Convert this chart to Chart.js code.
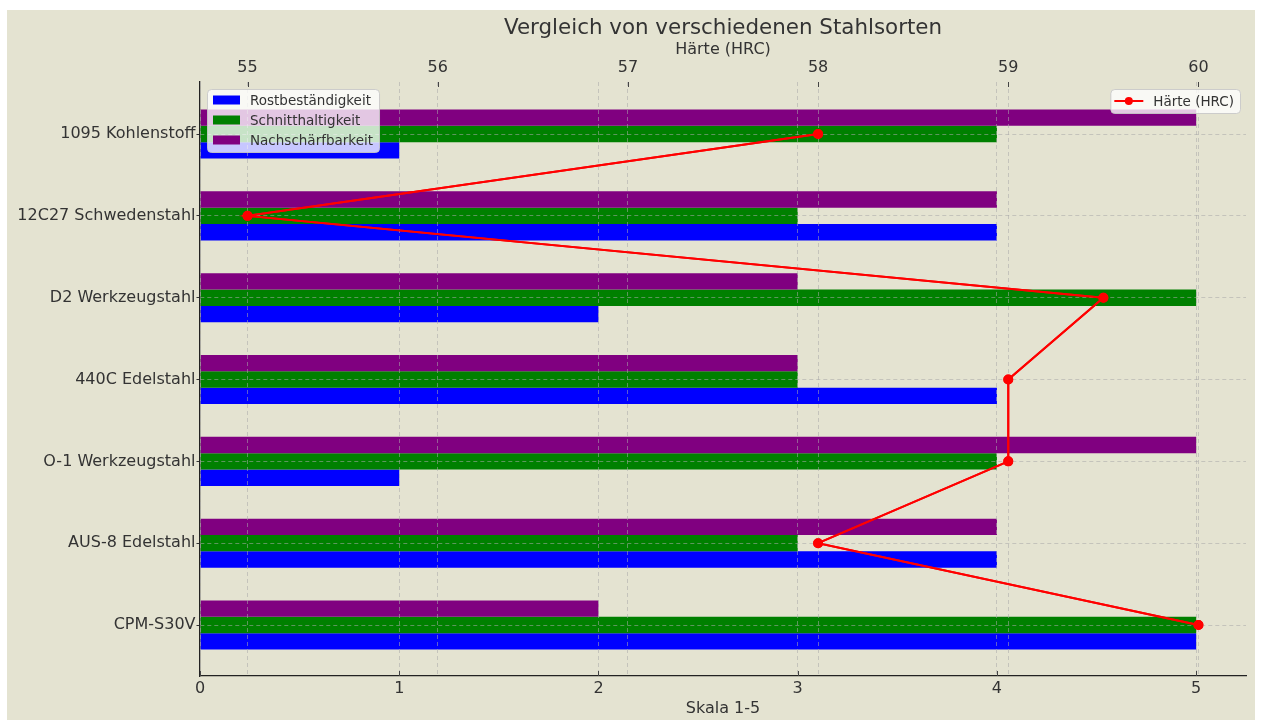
<!DOCTYPE html>
<html lang="de">
<head>
<meta charset="UTF-8">
<title>Vergleich von verschiedenen Stahlsorten</title>
<script src="https://cdn.jsdelivr.net/npm/chart.js"></script>
<style>
  html, body { margin: 0; background: #fff; }
  #wrap { position: absolute; left: 7px; top: 10px; width: 1248px; height: 710px; }
</style>
</head>
<body>
<div id="wrap"><canvas id="steelChart"></canvas></div>
<script>
// Stahlsorten von oben nach unten
const steels = ['1095 Kohlenstoff', '12C27 Schwedenstahl', 'D2 Werkzeugstahl', '440C Edelstahl',
                'O-1 Werkzeugstahl', 'AUS-8 Edelstahl', 'CPM-S30V'];
const rost = [1, 4, 2, 4, 1, 4, 5];
const schnitt = [4, 3, 5, 3, 4, 3, 5];
const nachschaerf = [5, 4, 3, 3, 5, 4, 2];
const haerte = [58, 55, 59.5, 59, 59, 58, 60];
const scaleTicks = [0, 1, 2, 3, 4, 5];
const hrcTicks = [55, 56, 57, 58, 59, 60];

const BG = '#e4e3d1';
const TEXT = '#333';
const GRID = 'rgba(170,170,170,0.55)';
const FONT = "'DejaVu Sans', sans-serif";
Chart.defaults.font.family = FONT;
Chart.defaults.color = TEXT;

const idx = steels.map((_, i) => i);
const barSet = (label, values, color) => ({
  type: 'bar', label, backgroundColor: color, borderWidth: 0,
  data: values.map((v, i) => ({ x: v, y: idx[i] })),
  xAxisID: 'x', yAxisID: 'y',
  categoryPercentage: 0.6, barPercentage: 1.0
});

// background, title, inward ticks, legends
const framePlugin = {
  id: 'frame',
  beforeDraw(chart) {
    const c = chart.ctx;
    c.save();
    c.fillStyle = BG;
    c.fillRect(0, 0, chart.width, chart.height);
    c.restore();
  },
  afterDraw(chart) {
    const c = chart.ctx, a = chart.chartArea;
    // hardness line again, so it sits above the grid like in the original
    c.save();
    chart.getDatasetMeta(0).controller.draw();
    c.restore();

    c.save();
    c.fillStyle = TEXT;
    c.font = '21.4px ' + FONT;
    c.textAlign = 'center';
    c.textBaseline = 'middle';
    c.fillText('Vergleich von verschiedenen Stahlsorten', (a.left + a.right) / 2, 18);

    c.strokeStyle = '#444';
    c.lineWidth = 1;
    const xs = chart.scales.x, x2 = chart.scales.x2;
    xs.ticks.forEach(t => {
      const p = Math.round(xs.getPixelForValue(t.value)) + 0.5;
      c.beginPath(); c.moveTo(p, a.bottom); c.lineTo(p, a.bottom - 5); c.stroke();
    });
    x2.ticks.forEach(t => {
      const p = Math.round(x2.getPixelForValue(t.value)) + 0.5;
      c.beginPath(); c.moveTo(p, a.top); c.lineTo(p, a.top + 5); c.stroke();
    });

    c.font = '13.5px ' + FONT;
    c.textAlign = 'left';
    const box = (x, y, w, h) => {
      c.beginPath();
      c.roundRect(x, y, w, h, 4);
      c.fillStyle = 'rgba(255,255,255,0.78)';
      c.fill();
      c.strokeStyle = 'rgba(200,200,200,0.9)';
      c.lineWidth = 1;
      c.stroke();
    };
    const bars = [chart.data.datasets[3], chart.data.datasets[2], chart.data.datasets[1]];
    const tw = Math.max(...bars.map(d => c.measureText(d.label).width));
    const lx = a.left + 7, ly = a.top + 7;
    box(lx + 0.5, ly + 0.5, 43 + tw + 6, 63);
    bars.forEach((d, i) => {
      const cy = ly + 11 + i * 20;
      c.fillStyle = d.backgroundColor;
      c.fillRect(lx + 6, cy - 4.5, 27, 9);
      c.fillStyle = TEXT;
      c.fillText(d.label, lx + 43, cy + 1);
    });

    const ln = chart.data.datasets[0];
    const w2 = 43 + c.measureText(ln.label).width + 6;
    const rx = a.right - 6 - w2;
    box(rx + 0.5, ly + 0.5, w2, 24);
    const cy2 = ly + 12;
    c.strokeStyle = ln.borderColor;
    c.lineWidth = 2;
    c.beginPath(); c.moveTo(rx + 4, cy2); c.lineTo(rx + 33, cy2); c.stroke();
    c.fillStyle = ln.borderColor;
    c.beginPath(); c.arc(rx + 18.5, cy2, 4, 0, Math.PI * 2); c.fill();
    c.fillStyle = TEXT;
    c.fillText(ln.label, rx + 43, cy2 + 1);
    c.restore();
  }
};

new Chart(document.getElementById('steelChart'), {
  data: {
    datasets: [
      {
        type: 'line', label: 'Härte (HRC)',
        data: haerte.map((v, i) => ({ x: v, y: idx[i] })),
        xAxisID: 'x2', yAxisID: 'y',
        borderColor: '#ff0000', backgroundColor: '#ff0000',
        borderWidth: 2, pointRadius: 4, pointHoverRadius: 4, tension: 0, order: 0
      },
      barSet('Nachschärfbarkeit', nachschaerf, '#800080'),
      barSet('Schnitthaltigkeit', schnitt, '#008000'),
      barSet('Rostbeständigkeit', rost, '#0000ff')
    ]
  },
  options: {
    indexAxis: 'y',
    responsive: true,
    maintainAspectRatio: false,
    animation: false,
    layout: { padding: { top: 30, right: 9, left: 0, bottom: 0 } },
    plugins: {
      legend: { display: false },
      title: { display: false },
      tooltip: { enabled: false }
    },
    scales: {
      y: {
        type: 'linear', position: 'left', reverse: true, offset: false,
        min: -0.636, max: 6.623,
        afterBuildTicks: s => { s.ticks = idx.map(v => ({ value: v })); },
        afterFit: s => { s.width = 193; },
        ticks: { callback: v => steels[v], font: { size: 16 }, color: TEXT, padding: 1 },
        grid: { color: GRID, z: 1, offset: false, tickLength: 3.5, tickColor: '#333', tickBorderDash: [] },
        border: { display: true, color: '#222', width: 1.3, dash: [4, 3], z: 1 }
      },
      x: {
        type: 'linear', position: 'bottom', min: 0, max: 5.25,
        afterBuildTicks: s => { s.ticks = scaleTicks.map(v => ({ value: v })); },
        afterFit: s => { s.height = 44; },
        ticks: { font: { size: 16 }, color: TEXT, padding: 3 },
        title: { display: true, text: 'Skala 1-5', font: { size: 16 }, color: TEXT, padding: { top: 0, bottom: 2 } },
        grid: { color: GRID, z: 1, drawTicks: false },
        border: { display: true, color: '#222', width: 1.3, dash: [4, 3], z: 1 }
      },
      x2: {
        type: 'linear', position: 'top', min: 54.75, max: 60.25,
        afterBuildTicks: s => { s.ticks = hrcTicks.map(v => ({ value: v })); },
        afterFit: s => { s.height = 42; },
        ticks: { font: { size: 16 }, color: TEXT, padding: 4.5 },
        title: { display: true, text: 'Härte (HRC)', font: { size: 16 }, color: TEXT, padding: { top: 0, bottom: 0 } },
        grid: { color: GRID, z: 1, drawTicks: false },
        border: { display: false, dash: [4, 3], z: 1 }
      }
    }
  },
  plugins: [framePlugin]
});
</script>
</body>
</html>
